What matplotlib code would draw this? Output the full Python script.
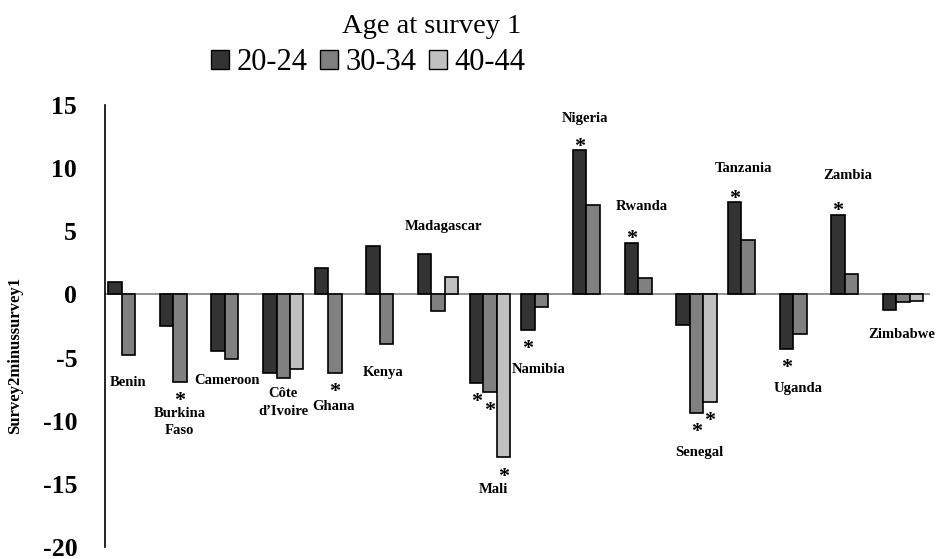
import numpy as np
from matplotlib import pyplot as plt
from matplotlib.patches import Patch

plt.rcParams['font.family'] = ['Liberation Serif', 'DejaVu Serif']
plt.rcParams['axes.unicode_minus'] = False

countries = ["Benin", "Burkina\nFaso", "Cameroon", "Côte\nd’Ivoire", "Ghana", "Kenya",
             "Madagascar", "Mali", "Namibia", "Nigeria", "Rwanda", "Senegal",
             "Tanzania", "Uganda", "Zambia", "Zimbabwe"]
series_names = ["20-24", "30-34", "40-44"]

age_20_24 = [1.0, -2.5, -4.5, -6.2, 2.1, 3.8, 3.2, -7.0, -2.8, 11.4, 4.1, -2.4, 7.3, -4.3, 6.3, -1.2]
age_30_34 = [-4.8, -6.9, -5.1, -6.6, -6.2, -3.9, -1.3, -7.7, -1.0, 7.1, 1.3, -9.4, 4.3, -3.1, 1.6, -0.6]
age_40_44 = [None, None, None, -5.9, None, None, 1.4, -12.9, None, None, None, -8.5, None, None, None, -0.55]

# where the country names sit (category position, value)
label_x = [0, 1, 1.92, 3, 3.98, 4.93, 6.1, 7.07, 7.95, 8.85, 9.95, 11.06, 11.91, 12.97, 13.92, 14.98]
label_y = [-7.0, -10.1, -6.85, -8.55, -8.9, -6.2, 5.4, -15.45, -5.95, 13.9, 6.95, -12.5, 9.95, -7.45, 9.4, -3.15]

# significant differences: (country index, series index)
stars = [(1, 1), (4, 1), (7, 0), (7, 1), (7, 2), (8, 0), (9, 0), (10, 0),
         (11, 1), (11, 2), (12, 0), (13, 0), (14, 0)]

colors = ["#333333", "#808080", "#c0c0c0"]
width = 0.26
offsets = [-width, 0, width]
all_series = [age_20_24, age_30_34, age_40_44]

fig = plt.figure(figsize=(9.36, 5.59), dpi=100)
ax = fig.add_axes([105 / 936, 1 - 547 / 559, 825 / 936, 442 / 559])

x = np.arange(len(countries))
for values, off, col in zip(all_series, offsets, colors):
    xs = [xi + off for xi, v in zip(x, values) if v is not None]
    vs = [v for v in values if v is not None]
    ax.bar(xs, vs, width=width, color=col, edgecolor="black", linewidth=1.2, zorder=3)

ax.axhline(0, color="#808080", linewidth=1.2, zorder=2)

for ci, si in stars:
    v = all_series[si][ci]
    dy = -1 if v > 0 else -17.5
    ax.annotate("*", xy=(ci + offsets[si], v), xytext=(0, dy), textcoords="offset points",
                ha="center", va="baseline", fontsize=16, fontweight="bold")

for name, lx, ly in zip(countries, label_x, label_y):
    ax.text(lx, ly, name, ha="center", va="center", fontsize=10.5, fontweight="bold",
            linespacing=1.45)

ax.set_xlim(-0.45, 15.52)
ax.set_ylim(-20, 15)
ax.set_yticks(range(-20, 16, 5))
ax.set_xticks([])
ax.tick_params(axis="y", length=0, pad=20, labelsize=18.5)
for lbl in ax.get_yticklabels():
    lbl.set_fontweight("bold")
for s in ["top", "right", "bottom"]:
    ax.spines[s].set_visible(False)
ax.spines["left"].set_linewidth(1.2)

ax.set_ylabel("Survey2minussurvey1", fontsize=12, fontweight="bold")
ax.yaxis.set_label_coords(-0.099, 0.433)

fig.text(432 / 936, 1 - 33 / 559, "Age at survey 1", ha="center", va="baseline", fontsize=20.5)
handles = [Patch(facecolor=c, edgecolor="black", linewidth=1) for c in colors]
ax.legend(handles, series_names, loc="center", bbox_to_anchor=(368 / 936, 1 - 63 / 559),
          bbox_transform=fig.transFigure, ncol=3, frameon=False, fontsize=22,
          handlelength=0.6, handleheight=0.6, handletextpad=0.23, columnspacing=0.41,
          borderpad=0, borderaxespad=0)

fig.savefig("out.png", dpi=100)
